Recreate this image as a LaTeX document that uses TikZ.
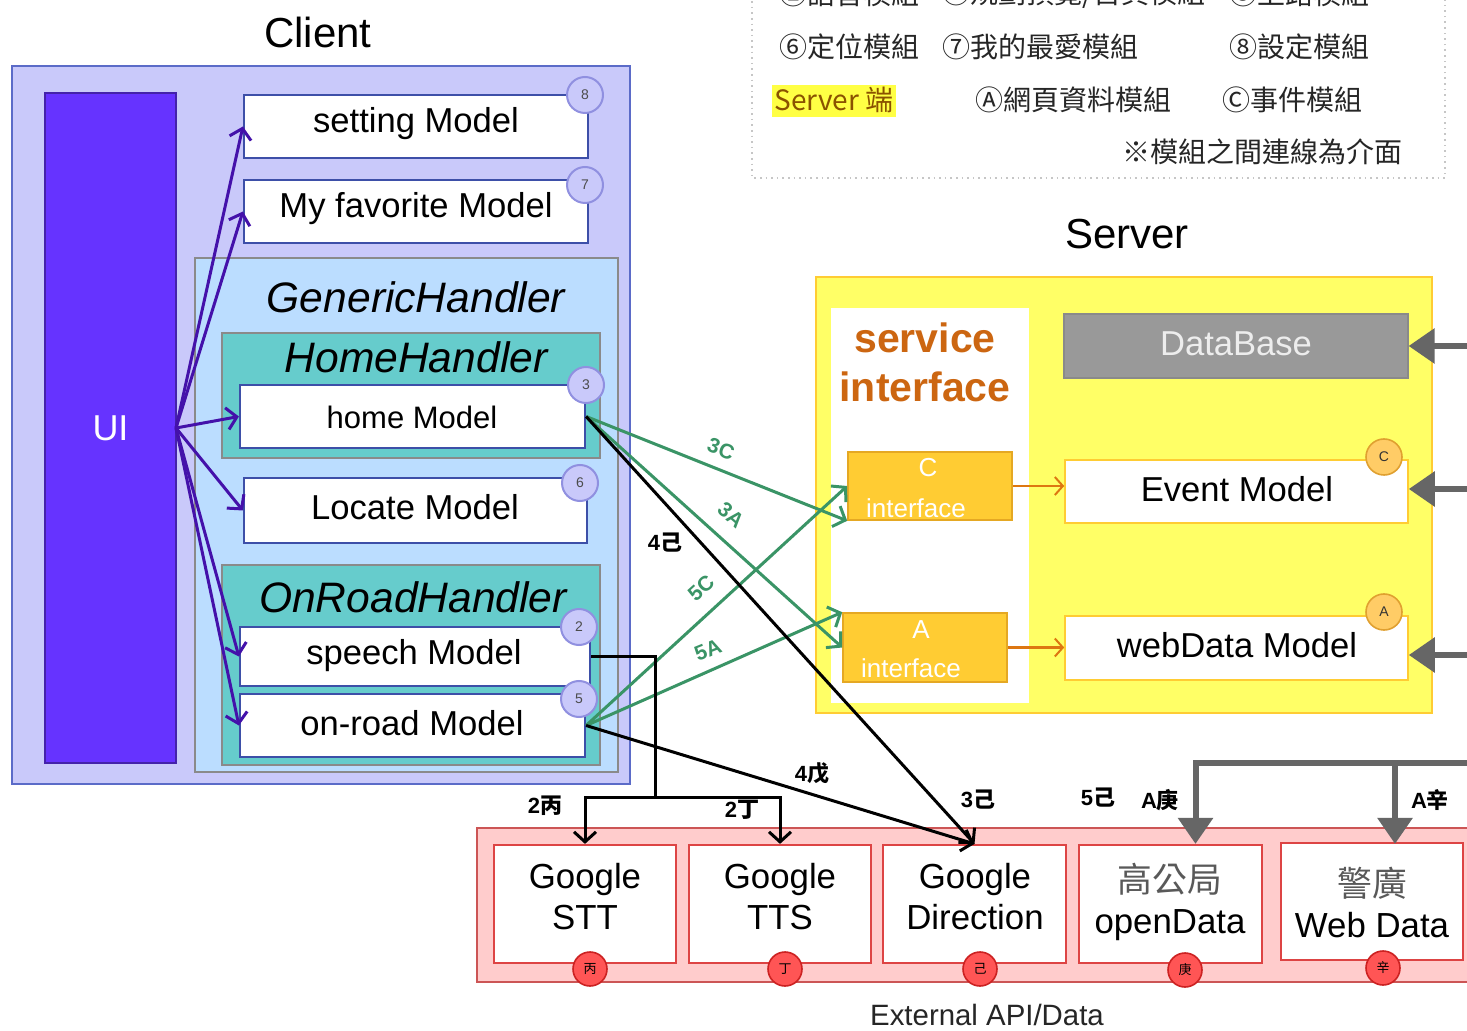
\documentclass[tikz,border=0pt]{standalone}
\usepackage{fontspec}
\setmainfont{Liberation Sans}
\newfontfamily\cjk{Noto Sans CJK TC}
\usetikzlibrary{arrows.meta,fit,calc}
\definecolor{clientfill}{HTML}{C9C9FA}
\definecolor{clientdraw}{HTML}{5B6BC8}
\definecolor{uifill}{HTML}{6633FF}
\definecolor{uidraw}{HTML}{4422AA}
\definecolor{modeldraw}{HTML}{3D4FA8}
\definecolor{badgefill}{HTML}{C9C9FA}
\definecolor{badgedraw}{HTML}{9090E0}
\definecolor{genfill}{HTML}{BBDDFF}
\definecolor{gendraw}{HTML}{8A8A8A}
\definecolor{tealfill}{HTML}{66CCCC}
\definecolor{purplearrow}{HTML}{4411AA}
\definecolor{greenarrow}{HTML}{3A9466}
\definecolor{srvfill}{HTML}{FFFF66}
\definecolor{srvdraw}{HTML}{FFCC33}
\definecolor{intfill}{HTML}{FFCC33}
\definecolor{intdraw}{HTML}{E5A823}
\definecolor{svctext}{HTML}{CC6611}
\definecolor{dbfill}{HTML}{999999}
\definecolor{orangearrow}{HTML}{DD7711}
\definecolor{grayarrow}{HTML}{666666}
\definecolor{extfill}{HTML}{FFCCCC}
\definecolor{extdraw}{HTML}{CC5555}
\definecolor{redbox}{HTML}{DD4444}
\definecolor{redbadge}{HTML}{FF5555}
\definecolor{redbadgedraw}{HTML}{CC2222}
\definecolor{hilite}{HTML}{FFFF44}
\definecolor{hilitetext}{HTML}{8A5200}
\definecolor{orangebadge}{HTML}{FFCC66}
\definecolor{orangebadgedraw}{HTML}{E0A030}
\begin{document}
\begin{tikzpicture}[x=0.5pt,y=-0.5pt,
  title/.style={font=\fontsize{21}{25}\selectfont},
  mbox/.style={draw=modeldraw, fill=white, line width=1.1pt, inner sep=0pt},
  mtext/.style={font=\fontsize{17.3}{20}\selectfont, inner sep=0pt},
  handler/.style={draw=gendraw, line width=1.1pt, inner sep=0pt},
  htitle/.style={font=\fontsize{21.3}{25}\selectfont\itshape},
  badge/.style={circle, draw=badgedraw, fill=badgefill, line width=1pt, minimum size=18pt, inner sep=0pt, text=black!70, font=\fontsize{7}{8}\selectfont},
  obadge/.style={circle, draw=orangebadgedraw, fill=orangebadge, line width=0.8pt, minimum size=18pt, inner sep=0pt, text=black!80, font=\fontsize{7}{8}\selectfont},
  rbadge/.style={circle, draw=redbadgedraw, fill=redbadge, line width=0.8pt, minimum size=17pt, inner sep=0pt, text=black, font=\cjk\fontsize{6.5}{7}\selectfont},
  intbox/.style={draw=intdraw, fill=intfill, line width=0.8pt, inner sep=0pt},
  inttext/.style={text=white, font=\fontsize{13}{15}\selectfont},
  srvbox/.style={draw=srvdraw, fill=white, line width=0.8pt, inner sep=0pt},
  extbox/.style={draw=redbox, fill=white, line width=1.1pt, inner sep=0pt},
  exttext/.style={align=center, font=\fontsize{17.4}{20.5}\selectfont},
  parrow/.style={draw=purplearrow, line width=1.5pt, -{Straight Barb[length=5pt,width=11pt]}},
  garrow/.style={draw=greenarrow, line width=1.5pt, -{Straight Barb[length=5pt,width=11pt]}},
  karrow/.style={draw=black, line width=1.5pt, -{Straight Barb[length=5pt,width=11pt]}},
  oarrow/.style={draw=orangearrow, line width=1pt, -{Straight Barb[length=4pt,width=9pt]}},
  grarrow/.style={draw=grayarrow, line width=3pt, -{Triangle[length=13pt,width=17pt]}},
  glabel/.style={text=greenarrow, inner sep=0pt, font=\fontsize{10.5}{12}\selectfont\bfseries},
  klabel/.style={text=black, inner sep=0pt, font=\fontsize{11}{12}\selectfont\bfseries},
  legend/.style={anchor=west, font=\cjk\fontsize{14}{16}\selectfont, text=black!85},
]
\useasboundingbox (0,0) rectangle (1467,1031);
\clip (0,0) rectangle (1467,1031);
\fill[white] (0,0) rectangle (1467,1031);

% ---------- legend ----------
\draw[gray!45, dotted, line width=0.8pt] (752,-10) rectangle (1445,178);
\node[legend] (lg1) at (772,-6) {②語音模組};
\node[legend] (lg2) at (935,-6) {③規劃預覽/首頁模組};
\node[legend] (lg3) at (1222,-6) {⑤上路模組};
\node[legend] (lg4) at (772,47) {⑥定位模組};
\node[legend] (lg5) at (935,47) {⑦我的最愛模組};
\node[legend] (lg6) at (1222,47) {⑧設定模組};
\node[fit={(772,85)(896,117)}, fill=hilite, inner sep=0pt] (lghl) {};
\node[font=\cjk\fontsize{14}{16}\selectfont, text=hilitetext] (lg7) at (834,100) {Server 端};
\node[legend] (lg8) at (968,100) {Ⓐ網頁資料模組};
\node[legend] (lg9) at (1215,100) {Ⓒ事件模組};
\node[legend, anchor=east] (lg10) at (1410,152) {※模組之間連線為介面};

% ---------- client ----------
\node[title] (clienttitle) at (318,32) {Client};
\node[fit={(12,66)(630,784)}, draw=clientdraw, fill=clientfill, line width=1.2pt, inner sep=0pt] (client) {};
\node[fit={(45,93)(176,763)}, fill=uifill, draw=uidraw, line width=0.8pt, inner sep=0pt] (ui) {};
\node[text=white, font=\fontsize{18}{20}\selectfont] (uitext) at (ui.center) {UI};
\node[mbox, fit={(244,95)(588,158)}] (setting) {};
\node[mtext] (settingt) at (416,124) {setting Model};
\node[mbox, fit={(244,180)(588,243)}] (fav) {};
\node[mtext] (favt) at (416,209) {My favorite Model};
\node[handler, fill=genfill, fit={(195,258)(618,772)}] (generic) {};
\node[htitle] (generictitle) at (416,297) {GenericHandler};
\node[handler, fill=tealfill, fit={(222,333)(600,458)}] (homeh) {};
\node[htitle] (homehtitle) at (416,357) {HomeHandler};
\node[mbox, fit={(240,385)(585,448)}] (home) {};
\node[mtext, font=\fontsize{15.5}{18}\selectfont] (homet) at (412,417) {home Model};
\node[mbox, fit={(244,478)(587,543)}] (locate) {};
\node[mtext] (locatet) at (415,507) {Locate Model};
\node[handler, fill=tealfill, fit={(222,565)(600,765)}] (onroadh) {};
\node[htitle] (onroadhtitle) at (413,597) {OnRoadHandler};
\node[mbox, fit={(240,627)(590,686)}] (speech) {};
\node[mtext] (speecht) at (414,656) {speech Model};
\node[mbox, fit={(240,694)(585,757)}] (onroad) {};
\node[mtext] (onroadt) at (412,723) {on-road Model};

% ---------- server ----------
\node[title] (servertitle) at (1127,234) {Server};
\node[fit={(816,277)(1432,713)}, draw=srvdraw, fill=srvfill, line width=0.8pt, inner sep=0pt] (server) {};
\node[fit={(831,308)(1029,703)}, fill=white, inner sep=0pt] (svc) {};
\node[text=svctext, font=\fontsize{20.5}{24}\selectfont\bfseries] (svct1) at (925,338) {service};
\node[text=svctext, font=\fontsize{20.5}{24}\selectfont\bfseries] (svct2) at (925,387) {interface};
\node[intbox, fit={(848,452)(1012,520)}] (cint) {};
\node[inttext] (cintc) at (928,468) {C};
\node[inttext] (cintt) at (916,508) {interface};
\node[intbox, fit={(843,613)(1007,682)}] (aint) {};
\node[inttext] (ainta) at (921,630) {A};
\node[inttext] (aintt) at (911,668) {interface};
\node[fit={(1064,314)(1408,378)}, fill=dbfill, draw=dbfill!90!black, line width=0.6pt, inner sep=0pt] (db) {};
\node[mtext, text=black!7] (dbt) at (1236,344) {DataBase};
\node[srvbox, fit={(1065,460)(1408,523)}] (event) {};
\node[mtext] (eventt) at (1237,489) {Event Model};
\node[srvbox, fit={(1065,616)(1408,680)}] (webdata) {};
\node[mtext] (webdatat) at (1237,645) {webData Model};

% ---------- external ----------
\node[fit={(477,828)(1490,982)}, draw=extdraw, fill=extfill, line width=1.1pt, inner sep=0pt] (ext) {};
\node[extbox, fit={(494,845)(676,963)}] (stt) {};
\node[exttext] (stttext) at (585,897) {Google\\STT};
\node[extbox, fit={(689,845)(871,963)}] (tts) {};
\node[exttext] (ttstext) at (780,897) {Google\\TTS};
\node[extbox, fit={(883,845)(1066,963)}] (gdir) {};
\node[exttext] (gdirtext) at (975,897) {Google\\Direction};
\node[extbox, fit={(1079,845)(1262,963)}] (od) {};
\node[exttext] (odtext) at (1170,902) {{\cjk\color{black!65}高公局}\\openData};
\node[extbox, fit={(1281,843)(1463,960)}] (wd) {};
\node[exttext] (wdtext) at (1372,902) {{\cjk\color{black!65}警廣}\\Web Data};
\node[font=\fontsize{14.7}{17}\selectfont, text=black!85] (exttitle) at (987,1015) {External API/Data};

% ---------- connectors ----------
\coordinate (uiout) at (176,428);
\draw[parrow] (uiout) -- (setting.west);
\draw[parrow] (uiout) -- (fav.west);
\draw[parrow] (uiout) -- (home.west);
\draw[parrow] (uiout) -- (locate.west);
\draw[parrow] (uiout) -- (speech.west);
\draw[parrow] (uiout) -- (onroad.west);

\draw[oarrow] (cint.east) -- (cint.east -| event.west);
\draw[oarrow] (aint.east) -- (aint.east -| webdata.west);

\coordinate (grdb) at (1480,346);
\coordinate (grev) at (1480,489);
\coordinate (grwd) at (1480,655);
\draw[grarrow] (grdb) -- (grdb -| db.east);
\draw[grarrow] (grev) -- (grev -| event.east);
\draw[grarrow] (grwd) -- (grwd -| webdata.east);
\coordinate (grbus) at (1480,763);
\draw[grarrow] (grbus) -| ($(od.north)+(25,0)$);
\draw[grarrow] (grbus) -| ($(wd.north)+(23,2)$);

\draw[garrow] (home.east) -- (cint.south west);
\draw[garrow] (home.east) -- (aint.west);
\draw[garrow] (onroad.east) -- (cint.west);
\draw[garrow] (onroad.east) -- (aint.north west);

\draw[karrow] (home.east) -- (gdir.north);
\draw[karrow] (onroad.east) -- (gdir.north);
\coordinate (jn) at (655,797);
\draw[line width=1.5pt] (speech.east) -| (jn);
\draw[karrow] (jn) -| (stt.north);
\draw[karrow] (jn) -| (tts.north);

% ---------- labels ----------
\node[glabel, rotate=-21] (l3c) at (721,449) {3C};
\node[glabel, rotate=-41] (l3a) at (731,515) {3A};
\node[glabel, rotate=42] (l5c) at (701,588) {5C};
\node[glabel, rotate=22] (l5a) at (708,650) {5A};
\node[klabel] (l4ji) at (665,543) {4{\cjk 己}};
\node[klabel] (l4wu) at (812,773) {4{\cjk 戊}};
\node[klabel] (l2bing) at (545,806) {2{\cjk 丙}};
\node[klabel] (l2ding) at (742,810) {2{\cjk 丁}};
\node[klabel] (l3ji) at (978,800) {3{\cjk 己}};
\node[klabel] (l5ji) at (1098,798) {5{\cjk 己}};
\node[klabel] (lageng) at (1160,800) {A{\cjk 庚}};
\node[klabel] (laxin) at (1430,800) {A{\cjk 辛}};

% ---------- badges ----------
\node[badge] (b8) at (585,95) {8};
\node[badge] (b7) at (585,185) {7};
\node[badge] (b3) at (586,385) {3};
\node[badge] (b6) at (580,483) {6};
\node[badge] (b2) at (579,627) {2};
\node[badge] (b5) at (579,699) {5};
\node[obadge] (bc) at (1384,457) {C};
\node[obadge] (ba) at (1384,612) {A};
\node[rbadge] (rb1) at (590,969) {丙};
\node[rbadge] (rb2) at (785,969) {丁};
\node[rbadge] (rb3) at (980,969) {己};
\node[rbadge] (rb4) at (1185,970) {庚};
\node[rbadge] (rb5) at (1383,968) {辛};
\end{tikzpicture}
\end{document}
